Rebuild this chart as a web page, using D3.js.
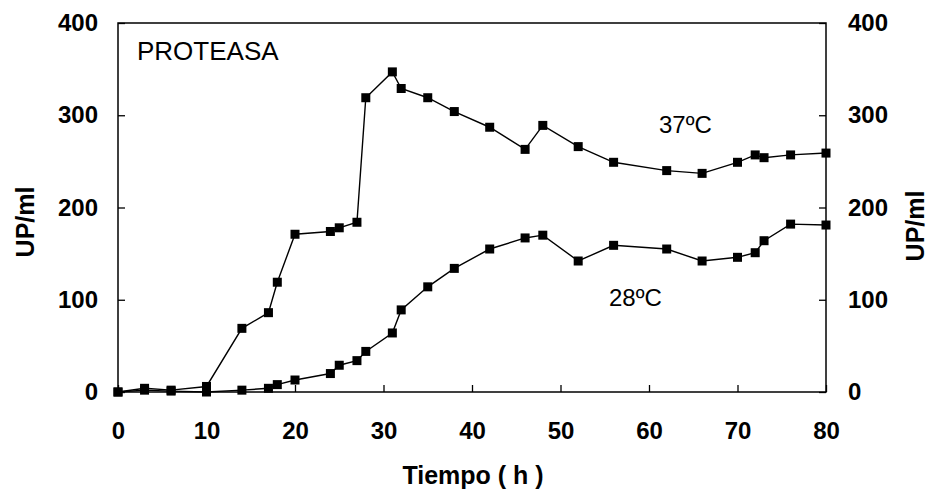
<!DOCTYPE html>
<html>
<head>
<meta charset="utf-8">
<script src="https://cdn.jsdelivr.net/npm/d3@7"></script>
<style>
  body { margin: 0; background: #fff; }
  text { font-family: "Liberation Sans", Arial, sans-serif; fill: #000; }
</style>
</head>
<body>
<div id="chart"></div>
<script>
// Tiempo (h) and UP/ml for both temperatures
const tiempo = [0, 3, 6, 10, 14, 17, 18, 20, 24, 25, 27, 28, 31, 32, 35, 38, 42, 46, 48, 52, 56, 62, 66, 70, 72, 73, 76, 80];
const up37 = [0, 4, 2, 6, 69, 86, 119, 171, 174, 178, 184, 319, 347, 329, 319, 304, 287, 263, 289, 266, 249, 240, 237, 249, 257, 254, 257, 259];
const up28 = [0, 2, 1, 0, 2, 4, 8, 13, 20, 29, 34, 44, 64, 89, 114, 134, 155, 167, 170, 142, 159, 155, 142, 146, 151, 164, 182, 181];
const xTicks = [0, 10, 20, 30, 40, 50, 60, 70, 80];
const yTicks = [0, 100, 200, 300, 400];

const width = 933, height = 496;
const mLeft = 118, mRight = 826, mTop = 23, mBottom = 392;

const svg = d3.select('#chart').append('svg')
    .attr('width', width)
    .attr('height', height);

const x = d3.scaleLinear().domain([0, 80]).range([mLeft, mRight]);
const y = d3.scaleLinear().domain([0, 400]).range([mBottom, mTop]);

// frame
svg.append('rect')
    .attr('x', mLeft).attr('y', mTop)
    .attr('width', mRight - mLeft).attr('height', mBottom - mTop)
    .attr('fill', 'none').attr('stroke', '#000').attr('stroke-width', 1.5);

// axes with inward ticks
const styleAxis = g => {
    g.select('.domain').remove();
    g.selectAll('.tick line').attr('stroke', '#000').attr('stroke-width', 1.3);
    g.selectAll('.tick text')
        .style('font-size', '24px').style('font-weight', 'bold')
        .style('font-family', '"Liberation Sans", Arial, sans-serif');
};

svg.append('g')
    .attr('transform', `translate(0,${mBottom})`)
    .call(d3.axisBottom(x).tickValues(xTicks).tickSize(-7).tickPadding(30))
    .call(styleAxis);

svg.append('g')
    .attr('transform', `translate(${mLeft},0)`)
    .call(d3.axisLeft(y).tickValues(yTicks).tickSize(-7).tickPadding(20))
    .call(styleAxis);

svg.append('g')
    .attr('transform', `translate(${mRight},0)`)
    .call(d3.axisRight(y).tickValues(yTicks).tickSize(-7).tickPadding(22))
    .call(styleAxis);

// axis titles
svg.append('text')
    .attr('x', 473).attr('y', 484)
    .attr('text-anchor', 'middle')
    .style('font-size', '25px').style('font-weight', 'bold')
    .text('Tiempo ( h )');

svg.append('text')
    .attr('transform', 'translate(34,222) rotate(-90)')
    .attr('text-anchor', 'middle')
    .style('font-size', '25px').style('font-weight', 'bold')
    .text('UP/ml');

svg.append('text')
    .attr('transform', 'translate(924,226) rotate(-90)')
    .attr('text-anchor', 'middle')
    .style('font-size', '25px').style('font-weight', 'bold')
    .text('UP/ml');

// series
const series = [up37, up28];
const line = d3.line()
    .x((d, i) => x(tiempo[i]))
    .y(d => y(d));

series.forEach(vals => {
    svg.append('path')
        .datum(vals)
        .attr('d', line)
        .attr('fill', 'none')
        .attr('stroke', '#000')
        .attr('stroke-width', 1.4);

    svg.append('g').selectAll('rect')
        .data(vals)
        .enter().append('rect')
        .attr('x', (d, i) => x(tiempo[i]) - 4.5)
        .attr('y', d => y(d) - 4.5)
        .attr('width', 9)
        .attr('height', 9)
        .attr('fill', '#000');
});

// labels
svg.append('text')
    .attr('x', 137).attr('y', 60)
    .style('font-size', '26px')
    .text('PROTEASA');

svg.append('text')
    .attr('x', 659).attr('y', 133)
    .style('font-size', '24px')
    .text('37ºC');

svg.append('text')
    .attr('x', 609).attr('y', 306)
    .style('font-size', '24px')
    .text('28ºC');
</script>
</body>
</html>
